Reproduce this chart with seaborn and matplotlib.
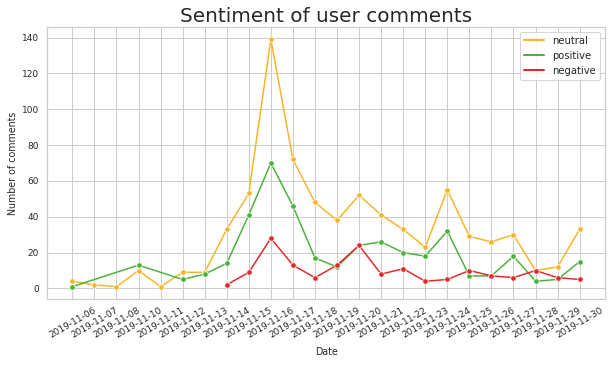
import matplotlib
matplotlib.use("Agg")
import matplotlib.pyplot as plt
import seaborn as sns
import pandas as pd

dates = ["2019-11-06", "2019-11-07", "2019-11-08", "2019-11-10", "2019-11-11", "2019-11-12",
         "2019-11-13", "2019-11-14", "2019-11-15", "2019-11-16", "2019-11-17", "2019-11-18",
         "2019-11-19", "2019-11-20", "2019-11-21", "2019-11-22", "2019-11-23", "2019-11-24",
         "2019-11-25", "2019-11-26", "2019-11-27", "2019-11-28", "2019-11-29", "2019-11-30"]

neutral_dates = dates
neutral_vals = [4, 2, 1, 10, 1, 9, 9, 33, 53, 139, 72, 48, 38, 52, 41, 33, 23, 55, 29, 26, 30, 10, 12, 33]

positive_dates = ["2019-11-06", "2019-11-10", "2019-11-12", "2019-11-13", "2019-11-14", "2019-11-15",
                  "2019-11-16", "2019-11-17", "2019-11-18", "2019-11-19", "2019-11-20", "2019-11-21",
                  "2019-11-22", "2019-11-23", "2019-11-24", "2019-11-25", "2019-11-26", "2019-11-27",
                  "2019-11-28", "2019-11-29", "2019-11-30"]
positive_vals = [1, 13, 5, 8, 14, 41, 70, 46, 17, 12, 24, 26, 20, 18, 32, 7, 7, 18, 4, 5, 15]

negative_dates = dates[7:]
negative_vals = [2, 9, 28, 13, 6, 13, 24, 8, 11, 4, 5, 10, 7, 6, 10, 6, 5]

sentiments = ["neutral", "positive", "negative"]
colors = {"neutral": "#F4B52A", "positive": "#4BB23B", "negative": "#E2282B"}

rows = []
for s, ds, vs in [("neutral", neutral_dates, neutral_vals),
                  ("positive", positive_dates, positive_vals),
                  ("negative", negative_dates, negative_vals)]:
    for d, v in zip(ds, vs):
        rows.append({"Date": d, "sentiment": s, "count": v})
df = pd.DataFrame(rows)
df["order"] = df["Date"].map({d: i for i, d in enumerate(dates)})
df["sorder"] = df["sentiment"].map({s: i for i, s in enumerate(sentiments)})
df = df.sort_values(["order", "sorder"]).reset_index(drop=True)

sns.set_theme(style="whitegrid")
plt.rcParams['font.family'] = ['DejaVu Sans']

fig = plt.figure(figsize=(614 / 72, 365 / 72), dpi=72)
ax = fig.add_axes([47 / 614, 1 - 299 / 365, (605 - 47) / 614, (299 - 27) / 365])

sns.lineplot(data=df, x="Date", y="count", hue="sentiment", hue_order=sentiments,
             palette=colors, marker="o", markersize=5.5, linewidth=1.5, ax=ax)

ax.set_title("Sentiment of user comments", fontsize=20, color="0.15", pad=5)
ax.set_xlabel("Date", fontsize=9.5, color="0.15", labelpad=7)
ax.set_ylabel("Number of comments", fontsize=9.5, color="0.15")
ax.tick_params(axis="x", labelsize=9, rotation=30, pad=1)
ax.tick_params(axis="y", labelsize=9, pad=2)

handles = [plt.Line2D([0], [0], color=colors[s], lw=2) for s in sentiments]
ax.legend(handles, sentiments, loc="upper right", fontsize=10, frameon=True)

fig.savefig("out.png", dpi=72)
